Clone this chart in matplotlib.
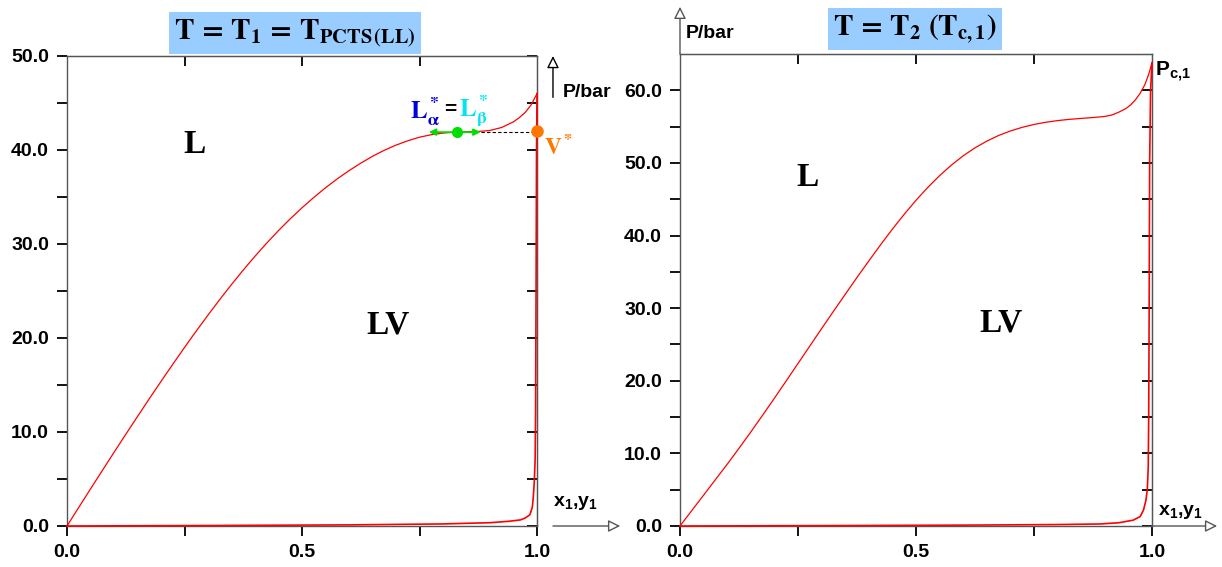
import matplotlib
matplotlib.use("Agg")
import matplotlib.pyplot as plt
from matplotlib.ticker import FixedLocator, FixedFormatter

plt.rcParams['font.family'] = ['Liberation Sans', 'DejaVu Sans']
plt.rcParams['mathtext.fontset'] = 'custom'
plt.rcParams['mathtext.rm'] = 'Liberation Sans:bold'
plt.rcParams['mathtext.bf'] = 'Liberation Sans:bold'
plt.rcParams['mathtext.it'] = 'Liberation Sans:bold'

# ---------------- data ----------------
# Left panel: T = T1 = T_PCTS(LL)
left_bubble_x = [0.0, 0.025, 0.05, 0.075, 0.1, 0.125, 0.15, 0.175, 0.2, 0.225, 0.25, 0.275,
                 0.3, 0.325, 0.35, 0.375, 0.4, 0.425, 0.45, 0.475, 0.5, 0.525, 0.55, 0.575,
                 0.6, 0.625, 0.65, 0.675, 0.7, 0.725, 0.75, 0.775, 0.8, 0.825, 0.85, 0.875,
                 0.9, 0.925, 0.95, 0.9625, 0.975, 0.9875, 1.0]
left_bubble_p = [0.0, 1.98, 3.94, 5.89, 7.83, 9.75, 11.65, 13.53, 15.38, 17.2, 18.99, 20.74,
                 22.44, 24.09, 25.69, 27.23, 28.7, 30.1, 31.43, 32.68, 33.85, 34.95, 35.98, 36.93,
                 37.8, 38.6, 39.33, 39.97, 40.52, 40.98, 41.36, 41.63, 41.8, 41.9, 41.94, 41.97,
                 42.08, 42.4, 43.0, 43.45, 44.0, 44.8, 46.0]
left_dew_x = [0.0, 0.3, 0.6, 0.8, 0.9, 0.94, 0.965, 0.975, 0.985, 0.99, 0.992, 0.994,
              0.996, 0.997, 0.998, 0.999, 1.0]
left_dew_p = [0.0, 0.05, 0.12, 0.22, 0.35, 0.5, 0.65, 0.85, 1.2, 2.0, 3.0, 4.5,
              7.0, 12.0, 25.0, 40.0, 46.0]
tie_x = [0.77, 0.88]          # L_alpha*, L_beta*
tie_mid_x = 0.83
tie_p = 41.9
vstar_x, vstar_p = 1.0, 42.0

# Right panel: T = T2 (Tc,1)
right_bubble_x = [0.0, 0.025, 0.05, 0.075, 0.1, 0.125, 0.15, 0.175, 0.2, 0.225, 0.25, 0.275,
                  0.3, 0.325, 0.35, 0.375, 0.4, 0.425, 0.45, 0.475, 0.5, 0.525, 0.55, 0.575,
                  0.6, 0.625, 0.65, 0.675, 0.7, 0.725, 0.75, 0.775, 0.8, 0.825, 0.85, 0.875,
                  0.9, 0.915, 0.93, 0.945, 0.955, 0.965, 0.975, 0.985, 0.993, 1.0]
right_bubble_p = [0.0, 2.13, 4.25, 6.38, 8.5, 10.7, 12.95, 15.25, 17.6, 19.98, 22.38, 24.78,
                  27.18, 29.55, 31.9, 34.23, 36.5, 38.73, 40.88, 42.93, 44.85, 46.63, 48.25, 49.7,
                  50.98, 52.08, 53.0, 53.78, 54.4, 54.9, 55.3, 55.6, 55.83, 56.0, 56.13, 56.25,
                  56.4, 56.6, 57.0, 57.5, 58.0, 58.7, 59.6, 60.8, 62.2, 63.8]
right_dew_x = [0.0, 0.3, 0.6, 0.8, 0.89, 0.93, 0.96, 0.975, 0.982, 0.987, 0.99, 0.992,
               0.993, 0.994, 0.995, 0.997, 1.0]
right_dew_p = [0.0, 0.05, 0.12, 0.2, 0.28, 0.45, 0.8, 1.3, 2.2, 3.5, 5.0, 8.0,
               15.0, 30.0, 50.0, 60.0, 63.8]

x_major = [0.0, 0.5, 1.0]
x_major_labels = ["0.0", "0.5", "1.0"]
x_minor = [0.25, 0.75]
left_y_major = [0, 10, 20, 30, 40, 50]
left_y_labels = ["0.0", "10.0", "20.0", "30.0", "40.0", "50.0"]
right_y_major = [0, 10, 20, 30, 40, 50, 60]
right_y_labels = ["0.0", "10.0", "20.0", "30.0", "40.0", "50.0", "60.0"]

# ---------------- figure ----------------
W, H = 1222, 567
fig = plt.figure(figsize=(W / 100, H / 100), dpi=100)
ax1 = fig.add_axes([67 / W, 41 / H, 470 / W, 470 / H])
ax2 = fig.add_axes([680 / W, 41 / H, 472 / W, 472 / H])

SPC = '#555555'
RED = '#ff0000'


def style(ax, ymax, ymajor, ylabels):
    ax.set_xlim(0, 1)
    ax.set_ylim(0, ymax)
    for s in ax.spines.values():
        s.set_color(SPC)
        s.set_linewidth(1.0)
    ax.xaxis.set_major_locator(FixedLocator(x_major))
    ax.xaxis.set_major_formatter(FixedFormatter(x_major_labels))
    ax.xaxis.set_minor_locator(FixedLocator(x_minor))
    ax.yaxis.set_major_locator(FixedLocator(ymajor))
    ax.yaxis.set_major_formatter(FixedFormatter(ylabels))
    minors = [v + 5 for v in ymajor if v + 5 < ymax]
    ax.yaxis.set_minor_locator(FixedLocator(minors))
    ax.tick_params(which='both', direction='out', length=7, width=1.3, color='black',
                   top=False, right=False, labelsize=14, pad=6)
    for lab in ax.get_xticklabels() + ax.get_yticklabels():
        lab.set_fontweight('bold')
    sec = ax.secondary_yaxis('right')
    sec.yaxis.set_major_locator(FixedLocator(ymajor + minors))
    sec.tick_params(direction='in', length=7, width=1.3, color='black', labelright=False)
    sec.spines['right'].set_color(SPC)
    secx = ax.secondary_xaxis('top')
    secx.xaxis.set_major_locator(FixedLocator([0.25, 0.5, 0.75]))
    secx.tick_params(direction='in', length=7, width=1.3, color='black', labeltop=False)
    secx.spines['top'].set_color(SPC)


style(ax1, 50, left_y_major, left_y_labels)
style(ax2, 65, right_y_major, right_y_labels)

# curves
for ax, bx, bp, dx, dp in [(ax1, left_bubble_x, left_bubble_p, left_dew_x, left_dew_p),
                           (ax2, right_bubble_x, right_bubble_p, right_dew_x, right_dew_p)]:
    ax.plot(bx, bp, color=RED, lw=0.9, clip_on=False, zorder=3)
    ax.plot(dx, dp, color=RED, lw=1.2, clip_on=False, zorder=3)

# ---------- left panel annotations ----------
ax1.plot([tie_x[1], vstar_x], [tie_p, tie_p], color='black', lw=0.8, ls=(0, (3, 2)), zorder=2)
ax1.annotate('', xy=(tie_x[0], tie_p), xytext=(tie_x[1], tie_p),
             arrowprops=dict(arrowstyle='<|-|>', color='#00dd00', lw=1.3,
                             mutation_scale=10, shrinkA=0, shrinkB=0), zorder=4)
ax1.plot([tie_mid_x], [tie_p], 'o', color='#00dd00', ms=7, zorder=5)
ax1.plot([vstar_x], [vstar_p], 'o', color='#ff7700', ms=8, clip_on=False, zorder=6)
ax1.text(1.015, 40.3, r'$\mathbf{V^*}$', math_fontfamily='stix', color='#ff7700',
         fontsize=17, ha='left', va='center')
ax1.text(0.762, 44.1, r'$\mathbf{L^*_{\alpha}}$', math_fontfamily='stix', color='#0000dd',
         fontsize=18, ha='center', va='center')
ax1.text(0.815, 44.3, '=', fontweight='bold', color='black',
         fontsize=15, ha='center', va='center')
ax1.text(0.866, 44.1, r'$\mathbf{L^*_{\beta}}$', math_fontfamily='stix', color='#00e5ee',
         fontsize=18, ha='center', va='center')

ax1.text(0.272, 40.6, 'L', family='Liberation Serif', fontweight='bold', fontsize=24,
         ha='center', va='center')
ax1.text(0.683, 21.4, 'LV', family='Liberation Serif', fontweight='bold', fontsize=24,
         ha='center', va='center')

# axis arrows, left panel
ax1.annotate('', xy=(1.177, 0), xytext=(1.034, 0), xycoords='data',
             arrowprops=dict(arrowstyle='-|>', fc='white', ec=SPC, lw=1.0,
                             mutation_scale=18, shrinkA=0, shrinkB=0),
             annotation_clip=False)
ax1.annotate('', xy=(1.034, 50.0), xytext=(1.034, 45.6), xycoords='data',
             arrowprops=dict(arrowstyle='-|>', fc='white', ec='black', lw=1.0,
                             mutation_scale=18, shrinkA=0, shrinkB=0),
             annotation_clip=False)
ax1.text(1.055, 46.1, 'P/bar', fontsize=14, fontweight='bold', ha='left', va='center')
ax1.text(1.034, 2.4, r'$\mathregular{x_1{,}y_1}$', fontsize=14, fontweight='bold',
         ha='left', va='center')

# ---------- right panel annotations ----------
ax2.text(0.271, 48.0, 'L', family='Liberation Serif', fontweight='bold', fontsize=24,
         ha='center', va='center')
ax2.text(0.680, 28.0, 'LV', family='Liberation Serif', fontweight='bold', fontsize=24,
         ha='center', va='center')
ax2.annotate('', xy=(1.138, 0), xytext=(1.0, 0), xycoords='data',
             arrowprops=dict(arrowstyle='-|>', fc='white', ec=SPC, lw=1.0,
                             mutation_scale=18, shrinkA=0, shrinkB=0),
             annotation_clip=False)
ax2.annotate('', xy=(0, 71.5), xytext=(0, 65), xycoords='data',
             arrowprops=dict(arrowstyle='-|>', fc='white', ec=SPC, lw=1.0,
                             mutation_scale=18, shrinkA=0, shrinkB=0),
             annotation_clip=False)
ax2.text(0.012, 67.8, 'P/bar', fontsize=14, fontweight='bold', ha='left', va='center')
ax2.text(1.012, 1.9, r'$\mathregular{x_1{,}y_1}$', fontsize=14, fontweight='bold',
         ha='left', va='center')
ax2.text(1.006, 62.6, r'$\mathregular{P_{c{,}1}}$', fontsize=15, fontweight='bold',
         ha='left', va='center')

# titles
box = dict(boxstyle='square,pad=0.18', fc='#99ccff', ec='none')
fig.text(295 / W, 1 - 33 / H, r'$\mathbf{T\,=\,T_1\,=\,T_{PCTS\,(LL)}}$', math_fontfamily='stix',
         fontsize=21, ha='center', va='center', bbox=box)
fig.text(915 / W, 1 - 29 / H, r'$\mathbf{T\,=\,T_2\ (T_{c,1})}$', math_fontfamily='stix',
         fontsize=21, ha='center', va='center', bbox=box)

fig.savefig('out.png', dpi=100)
